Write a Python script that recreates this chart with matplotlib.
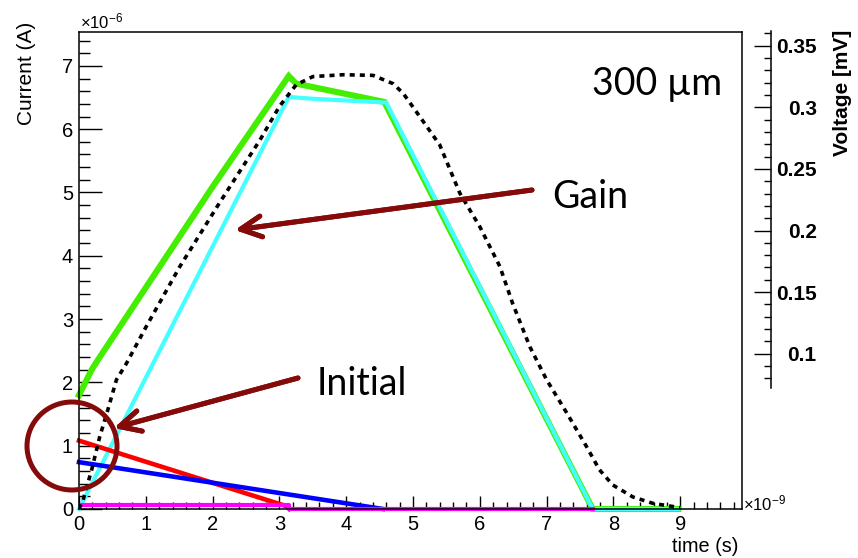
import matplotlib.pyplot as plt
from matplotlib.patches import Ellipse
from matplotlib.ticker import MultipleLocator

plt.rcParams['font.family'] = ['Liberation Sans', 'DejaVu Sans']
plt.rcParams['mathtext.fontset'] = 'custom'
plt.rcParams['mathtext.rm'] = 'Liberation Sans'

# time in units of 1e-9 s, current in units of 1e-6 A, voltage in mV
t_green = [0, 0.19, 0.28, 2.0, 3.14, 3.25, 4.57, 7.69, 8.97]
i_green = [1.8, 2.2, 2.35, 5.09, 6.84, 6.72, 6.43, 0.0, 0.0]

t_cyan = [0, 3.14, 3.5, 4.6, 7.69, 8.97]
i_cyan = [0.0, 6.51, 6.48, 6.42, 0.0, 0.0]

t_red = [0, 3.12, 3.15]
i_red = [1.08, 0.04, 0.0]

t_blue = [0, 0.25, 4.55]
i_blue = [0.74, 0.70, 0.0]

t_mag = [0.05, 3.15, 3.15, 7.7]
i_mag = [0.06, 0.06, 0.0, 0.0]

t_volt = [0, 0.06, 0.19, 0.31, 0.43, 0.56, 0.71, 1.0, 1.51, 2.1, 2.71, 3.0,
          3.25, 3.5, 3.95, 4.4, 4.7, 4.85, 5.1, 5.4, 5.7, 6.0, 6.3, 6.49,
          6.75, 7.0, 7.3, 7.6, 7.79, 7.99, 8.29, 8.59, 8.88, 9.0]
v_volt = [-0.0261, -0.0189, 0.0058, 0.0325, 0.0541, 0.0788, 0.0921, 0.1214,
          0.1708, 0.2222, 0.2736, 0.3008, 0.3183, 0.3250, 0.3265, 0.3260,
          0.3193, 0.3116, 0.2926, 0.2695, 0.2304, 0.2031, 0.1708, 0.1410,
          0.1055, 0.0788, 0.0520, 0.0243, 0.0058, -0.0066, -0.0163, -0.0215,
          -0.0240, -0.0251]

W, H = 858, 558
dark_red = '#850a0a'

fig = plt.figure(figsize=(W / 100, H / 100), dpi=100)
ax = fig.add_axes([79 / W, 49 / H, 662.7 / W, 477 / H])

ax.plot(t_green, i_green, color='#44ee00', lw=4.4, solid_joinstyle='miter', clip_on=False)
ax.plot(t_cyan, i_cyan, color='#44ffff', lw=3.0, solid_joinstyle='miter', clip_on=False)
ax.plot(t_red, i_red, color='#ff0000', lw=3.3, clip_on=False)
ax.plot(t_blue, i_blue, color='#0000ff', lw=3.3, clip_on=False)
ax.plot(t_mag, i_mag, color='#ff00ff', lw=3.0, clip_on=False)

ax.set_xlim(0, 9.92)
ax.set_ylim(0, 7.535)
ax.xaxis.set_major_locator(MultipleLocator(1))
ax.xaxis.set_minor_locator(MultipleLocator(0.2))
ax.yaxis.set_major_locator(MultipleLocator(1))
ax.yaxis.set_minor_locator(MultipleLocator(0.2))
ax.tick_params(axis='x', which='major', direction='in', length=9.4, width=1,
               labelsize=14.5, pad=4)
ax.tick_params(axis='x', which='minor', direction='in', length=4.7, width=1)
ax.tick_params(axis='y', which='major', direction='in', length=16.5, width=1,
               labelsize=14.5, pad=4.3)
ax.tick_params(axis='y', which='minor', direction='in', length=8, width=1)
for s in ax.spines.values():
    s.set_linewidth(1.1)

# voltage on its own axis at the right
ax2 = ax.twinx()
ax2.plot(t_volt, v_volt, color='black', lw=2.6, linestyle=(0, (1.4, 1.4)))
ax2.set_ylim(-0.0261, 0.3612)
for side in ['left', 'top', 'bottom']:
    ax2.spines[side].set_visible(False)
ax2.spines['right'].set_position(('outward', 21))
ax2.spines['right'].set_bounds(0.072, 0.362)
ax2.spines['right'].set_linewidth(1.1)
ax2.set_yticks([0.1, 0.15, 0.2, 0.25, 0.3, 0.35])
ax2.set_yticklabels(['0.1', '0.15', '0.2', '0.25', '0.3', '0.35'])
ax2.set_yticks([v / 100 for v in range(8, 37)], minor=True)
ax2.tick_params(axis='y', which='major', direction='in', length=12.5, width=1,
                labelsize=15, pad=33)
ax2.tick_params(axis='y', which='minor', direction='in', length=5, width=1)
plt.setp(ax2.get_yticklabels(), ha='right', fontweight='bold')

fig.text(27 / W, 1 - 22 / H, 'Current (A)', rotation=90, ha='center', va='top',
         fontsize=15)
fig.text(843 / W, 1 - 30 / H, 'Voltage [mV]', rotation=90, ha='center', va='top',
         fontsize=15, fontweight='bold')
fig.text(738 / W, 1 - 547 / H, 'time (s)', ha='right', va='center', fontsize=14.3)
fig.text(80 / W, 1 - 28 / H, r'$\mathregular{\times10^{-6}}$', ha='left',
         va='baseline', fontsize=12)
fig.text(743 / W, 1 - 510 / H, r'$\mathregular{\times10^{-9}}$', ha='left',
         va='baseline', fontsize=12)

# annotations
afont = ['Lato', 'DejaVu Sans']
fig.text(592 / W, 1 - 95 / H, '300 \u00b5m', fontsize=27, family=afont,
         fontweight='normal', va='baseline')
fig.text(552 / W, 1 - 208 / H, 'Gain', fontsize=27, family=afont,
         fontweight='normal', va='baseline')
fig.text(317 / W, 1 - 395 / H, 'Initial', fontsize=27, family=afont,
         fontweight='normal', va='baseline')

arrow = dict(arrowstyle='->,head_length=1.5,head_width=0.75', lw=3.6,
             color=dark_red, shrinkA=0, shrinkB=0)
fig.add_artist(plt.annotate('', xy=(235 / W, 1 - 230 / H),
                            xytext=(532 / W, 1 - 190 / H),
                            xycoords='figure fraction', arrowprops=arrow))
fig.add_artist(plt.annotate('', xy=(114 / W, 1 - 428 / H),
                            xytext=(298 / W, 1 - 378 / H),
                            xycoords='figure fraction', arrowprops=arrow))

circle = Ellipse((72 / W, 1 - 446 / H), 90 / W, 88 / H, transform=fig.transFigure,
                 fill=False, edgecolor=dark_red, lw=3.6)
fig.add_artist(circle)

fig.savefig('out.png', dpi=100)
